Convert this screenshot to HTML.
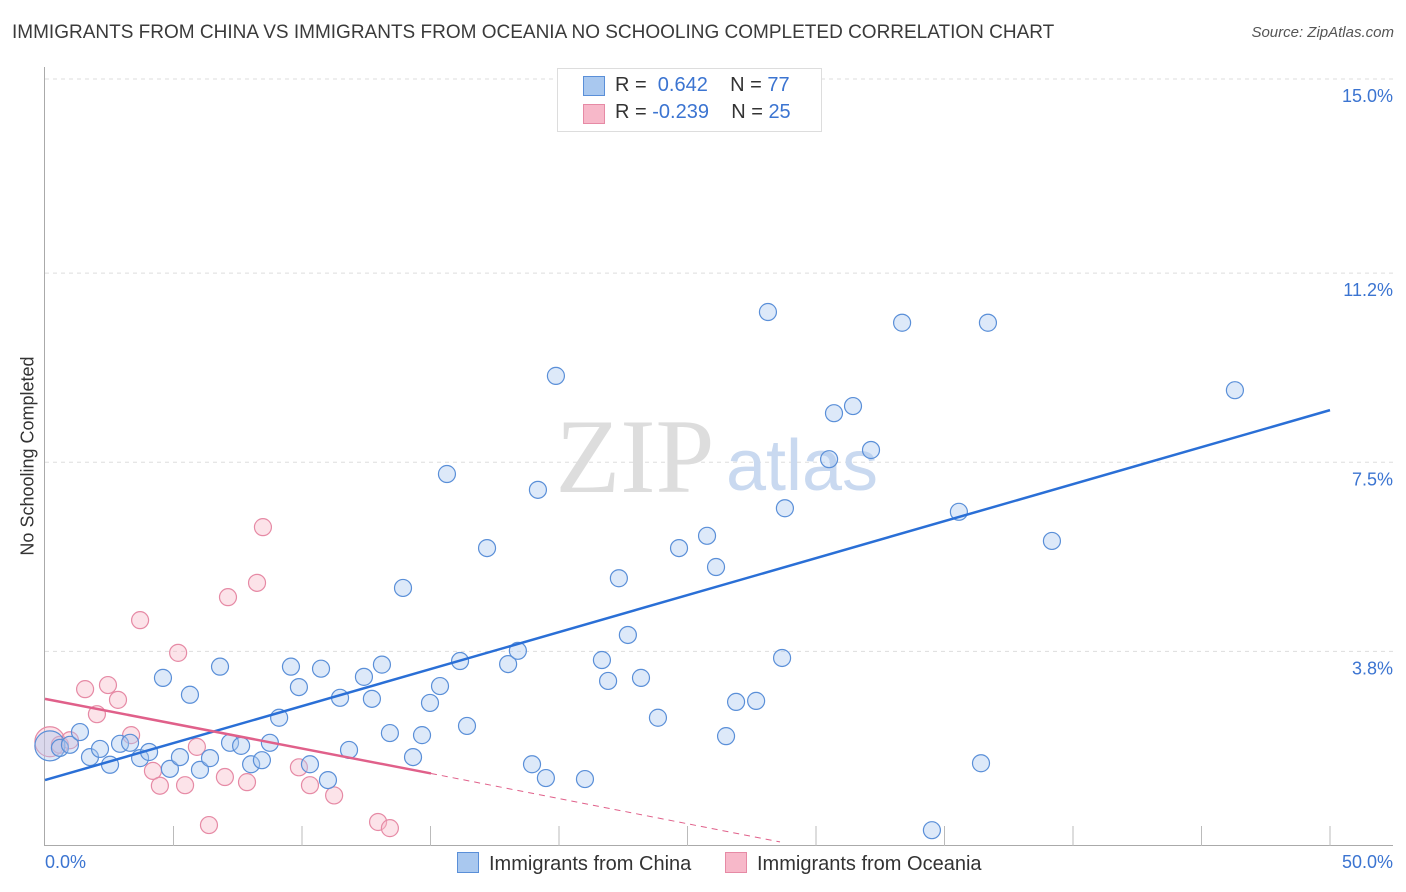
<!DOCTYPE html>
<html><head><meta charset="utf-8">
<style>
body{margin:0;background:#fff;font-family:"Liberation Sans",sans-serif;}
#wrap{position:relative;width:1406px;height:892px;overflow:hidden;}
.t{position:absolute;white-space:nowrap;}
</style></head><body>
<div id="wrap">
<div class="t" style="left:12px;top:22px;font-size:19px;color:#3a3a3a;">IMMIGRANTS FROM CHINA VS IMMIGRANTS FROM OCEANIA NO SCHOOLING COMPLETED CORRELATION CHART</div>
<div class="t" style="right:12px;top:24px;font-size:15px;color:#555;font-style:italic;">Source: ZipAtlas.com</div>
<svg id="svg" width="1406" height="892" style="position:absolute;left:0;top:0"></svg>
</div>
<script>
const chinaX=[0.19,0.58,0.97,1.36,1.75,2.14,2.53,2.92,3.31,3.70,4.05,4.59,4.86,5.25,5.64,6.03,6.42,6.81,7.20,7.63,8.02,8.44,8.75,9.11,9.57,9.88,10.31,10.74,11.01,11.48,11.83,12.41,12.72,13.11,13.42,13.93,14.32,14.67,14.98,15.37,15.64,16.15,16.42,17.20,18.02,18.40,18.95,19.18,19.49,19.88,21.01,21.67,21.91,22.33,22.68,23.19,23.85,24.67,25.76,26.11,26.50,26.89,27.67,28.13,28.68,28.79,30.51,30.70,31.44,32.14,33.35,34.51,35.56,36.42,36.69,39.18,46.30];
const chinaY=[1.95,1.91,1.97,2.22,1.73,1.89,1.58,1.99,2.01,1.71,1.83,3.28,1.50,1.73,2.95,1.48,1.71,3.50,2.01,1.95,1.59,1.67,2.01,2.50,3.50,3.10,1.59,3.46,1.28,2.89,1.87,3.30,2.87,3.54,2.20,5.04,1.73,2.16,2.79,3.12,7.27,3.61,2.34,5.82,3.55,3.81,1.59,6.96,1.32,9.19,1.30,3.63,3.22,5.23,4.12,3.28,2.50,5.82,6.06,5.45,2.14,2.81,2.83,10.44,3.67,6.60,7.56,8.46,8.60,7.74,10.23,0.30,6.53,1.61,10.23,5.96,8.91];
const oceX=[0.19,0.58,0.97,1.56,2.02,2.45,2.84,3.35,3.70,4.20,4.47,5.18,5.45,5.91,6.38,7.00,7.12,7.86,8.25,8.48,9.88,10.31,11.25,12.96,13.42];
const oceY=[2.03,1.97,2.06,3.06,2.57,3.14,2.85,2.16,4.41,1.46,1.17,3.77,1.18,1.93,0.40,1.34,4.86,1.24,5.14,6.23,1.53,1.18,0.98,0.46,0.34];
const yTicks=[3.8,7.5,11.2,15.0];
const yTickLabels=["3.8%","7.5%","11.2%","15.0%"];
const chinaTrend=[1.28,8.52];
const oceTrend=[2.87,1.41,0.07];
const oceTrendX=[0,15.02,28.6];
const X=v=>45+v*25.7, Y=v=>845.5-v*51.1;
const svg=document.getElementById('svg');const NS='http://www.w3.org/2000/svg';
function mk(t,a,p){const e=document.createElementNS(NS,t);for(const k in a)e.setAttribute(k,a[k]);(p||svg).appendChild(e);return e;}
yTicks.forEach((v,i)=>{const g=mk('line',{x1:45,x2:1393,y1:Y(v),y2:Y(v),stroke:'#ddd','stroke-dasharray':'4,4'});


const t=mk('text',{x:1393,y:Y(v)+23,'text-anchor':'end','font-size':18,fill:'#3b74d1','font-family':'Liberation Sans'});t.textContent=yTickLabels[i];

});
let a=mk('line',{x1:44.5,x2:44.5,y1:67,y2:846,stroke:'#aaa'});
a=mk('line',{x1:44,x2:1393,y1:845.5,y2:845.5,stroke:'#aaa'});
for(let k=1;k<=10;k++){const tk=mk('line',{x1:X(k*5),x2:X(k*5),y1:826,y2:846,stroke:'#bbb'});

}
let w=mk('text',{x:635,y:492,'text-anchor':'middle','font-size':106,fill:'#ddd','font-family':'Liberation Serif'});w.textContent='ZIP';
w=mk('text',{x:802,y:490,'text-anchor':'middle','font-size':72,fill:'#c9d9f0','font-family':'Liberation Sans'});w.textContent='atlas';
function pts(xs,ys,fill,stroke,name){xs.forEach((x,i)=>{const c=mk('circle',{cx:X(x),cy:Y(ys[i]),r:i==0?15:8.5,fill:fill,stroke:stroke,'stroke-width':1.2,'fill-opacity':0.4});

});}
pts(oceX,oceY,'#f7b8c9','#e68aa5','point-oceania');
pts(chinaX,chinaY,'#a9c8ef','#5a8fd8','point-china');
let l=mk('line',{x1:X(0),y1:Y(chinaTrend[0]),x2:X(50),y2:Y(chinaTrend[1]),stroke:'#2a6fd6','stroke-width':2.5});
l=mk('line',{x1:X(oceTrendX[0]),y1:Y(oceTrend[0]),x2:X(oceTrendX[1]),y2:Y(oceTrend[1]),stroke:'#e0608a','stroke-width':2.5});
l=mk('line',{x1:X(oceTrendX[1]),y1:Y(oceTrend[1]),x2:X(oceTrendX[2]),y2:Y(oceTrend[2]),stroke:'#e0608a','stroke-width':1,'stroke-dasharray':'6,5'});
</script>
<div class="t" style="left:28px;top:456px;font-size:18px;color:#333;transform:translate(-50%,-50%) rotate(-90deg);">No Schooling Completed</div>
<div class="t" style="left:45px;top:852px;font-size:18px;color:#3b74d1;">0.0%</div>
<div class="t" style="right:13px;top:852px;font-size:18px;color:#3b74d1;">50.0%</div>
<div style="position:absolute;left:557px;top:68px;width:263px;height:62px;border:1px solid #ddd;background:#fff;font-size:20px;color:#333;">
<div style="position:absolute;left:25px;top:7px;width:20px;height:18px;background:#a9c8ef;border:1px solid #5a8fd8;"></div>
<div class="t" style="left:57px;top:5px;">R = <span style="color:#3b74d1">&nbsp;0.642</span>&nbsp;&nbsp;&nbsp; N = <span style="color:#3b74d1">77</span></div>
<div style="position:absolute;left:25px;top:35px;width:20px;height:18px;background:#f7b8c9;border:1px solid #e68aa5;"></div>
<div class="t" style="left:57px;top:32px;">R = <span style="color:#3b74d1">-0.239</span>&nbsp;&nbsp;&nbsp; N = <span style="color:#3b74d1">25</span></div>
</div>
<div class="t" style="left:457px;top:852px;font-size:20px;color:#333;"><span style="display:inline-block;width:20px;height:19px;background:#a9c8ef;border:1px solid #5a8fd8;vertical-align:-3px;margin-right:10px;"></span>Immigrants from China</div>
<div class="t" style="left:725px;top:852px;font-size:20px;color:#333;"><span style="display:inline-block;width:20px;height:19px;background:#f7b8c9;border:1px solid #e68aa5;vertical-align:-3px;margin-right:10px;"></span>Immigrants from Oceania</div>
</body></html>
